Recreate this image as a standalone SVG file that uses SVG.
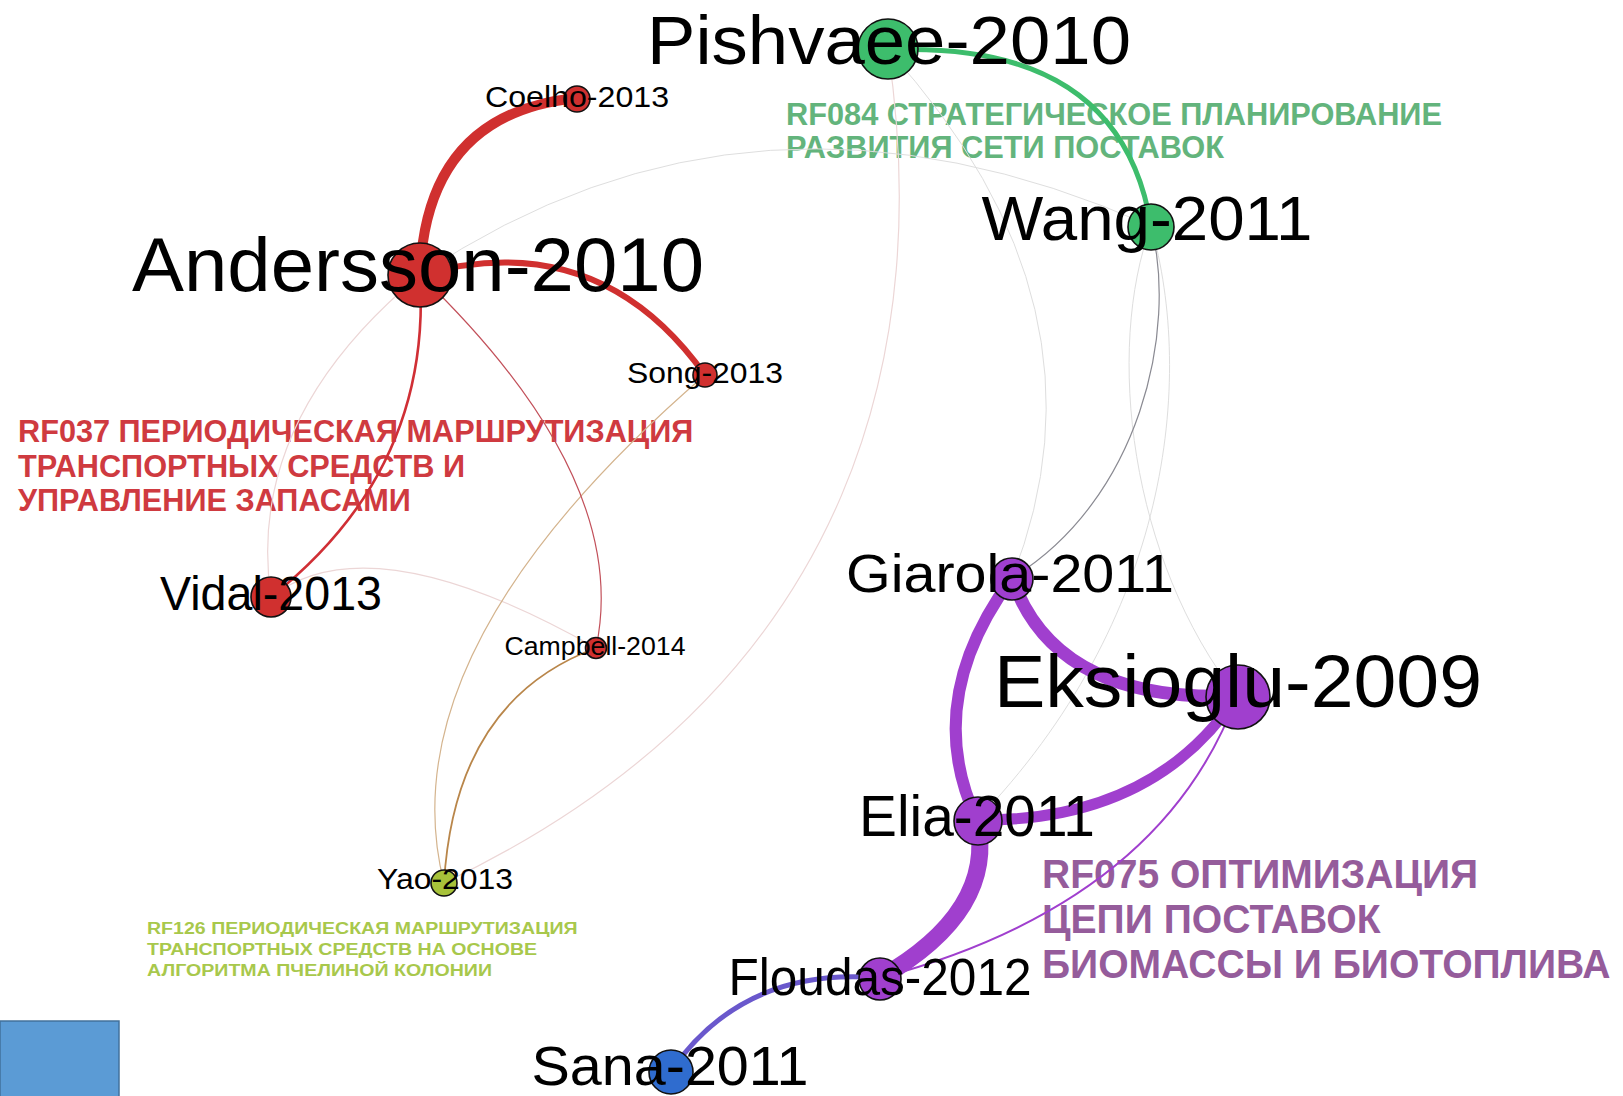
<svg xmlns="http://www.w3.org/2000/svg" width="1623" height="1096" viewBox="0 0 1623 1096">
  <style>
    .bg { fill: #ffffff; }
    .cluster { font-family: "Liberation Sans", Arial, sans-serif; font-weight: bold; }
    .c-green { fill: #63b47c; }
    .c-red { fill: #cf3a40; }
    .c-lime { fill: #a8c84c; }
    .c-purple { fill: #955c9b; }
    .edge { fill: none; stroke-linecap: round; }
    .faint { stroke: #dedede; stroke-width: 1; }
    .faint-pink { stroke: #ecd6d6; stroke-width: 1.2; }
    .node circle { stroke: #111111; stroke-width: 1.6; }
    .node text { font-family: "Liberation Sans", Arial, sans-serif; fill: #000000; text-anchor: middle; }
    .red { fill: #d0302f; }
    .green { fill: #3dbd6c; }
    .purple { fill: #a03fce; }
    .blue { fill: #2f6ccf; }
    .lime { fill: #a7c23a; }
  </style>

  <rect class="bg" x="0" y="0" width="1623" height="1096"/>

  <!-- cluster captions (condensed bold) -->
  <g id="cluster-labels">
    <g transform="translate(786,0) scale(0.92,1)">
      <text class="cluster c-green" font-size="32">
        <tspan x="0" y="125" textLength="713" lengthAdjust="spacingAndGlyphs">RF084 СТРАТЕГИЧЕСКОЕ ПЛАНИРОВАНИЕ</tspan>
        <tspan x="0" y="158" textLength="476" lengthAdjust="spacingAndGlyphs">РАЗВИТИЯ СЕТИ ПОСТАВОК</tspan>
      </text>
    </g>
    <g transform="translate(18,0) scale(0.92,1)">
      <text class="cluster c-red" font-size="32">
        <tspan x="0" y="442" textLength="734" lengthAdjust="spacingAndGlyphs">RF037 ПЕРИОДИЧЕСКАЯ МАРШРУТИЗАЦИЯ</tspan>
        <tspan x="0" y="477" textLength="486" lengthAdjust="spacingAndGlyphs">ТРАНСПОРТНЫХ СРЕДСТВ И</tspan>
        <tspan x="0" y="511" textLength="427" lengthAdjust="spacingAndGlyphs">УПРАВЛЕНИЕ ЗАПАСАМИ</tspan>
      </text>
    </g>
    <g transform="translate(147,0) scale(0.92,1)">
      <text class="cluster c-lime" font-size="17">
        <tspan x="0" y="934" textLength="468" lengthAdjust="spacingAndGlyphs">RF126 ПЕРИОДИЧЕСКАЯ МАРШРУТИЗАЦИЯ</tspan>
        <tspan x="0" y="955" textLength="424" lengthAdjust="spacingAndGlyphs">ТРАНСПОРТНЫХ СРЕДСТВ НА ОСНОВЕ</tspan>
        <tspan x="0" y="976" textLength="375" lengthAdjust="spacingAndGlyphs">АЛГОРИТМА ПЧЕЛИНОЙ КОЛОНИИ</tspan>
      </text>
    </g>
    <g transform="translate(1042,0) scale(0.92,1)">
      <text class="cluster c-purple" font-size="41">
        <tspan x="0" y="888" textLength="474" lengthAdjust="spacingAndGlyphs">RF075 ОПТИМИЗАЦИЯ</tspan>
        <tspan x="0" y="933" textLength="368" lengthAdjust="spacingAndGlyphs">ЦЕПИ ПОСТАВОК</tspan>
        <tspan x="0" y="978" textLength="618" lengthAdjust="spacingAndGlyphs">БИОМАССЫ И БИОТОПЛИВА</tspan>
      </text>
    </g>
  </g>

  <!-- citation links -->
  <g id="edges">
    <!-- faint links -->
    <path class="edge faint-pink" d="M271,597 Q245,420 420,275"/>
    <path class="edge faint-pink" d="M271,597 Q370,520 596,648"/>
    <path class="edge faint-pink" d="M888,50 C930,330 870,680 444,883"/>
    <path class="edge faint" d="M420,275 Q755,50 1151,226"/>
    <path class="edge faint" d="M888,50 Q1120,305 1012,578"/>
    <path class="edge faint" d="M1151,226 C1105,350 1130,560 1237,696"/>
    <path class="edge faint" stroke="#d2d2d2" d="M1151,226 C1195,380 1170,620 977,820"/>
    <path class="edge" stroke="#8a8a92" stroke-width="1.2" d="M1151,226 C1178,330 1140,500 1012,578"/>

    <!-- red cluster -->
    <path class="edge" stroke="#d4b48e" stroke-width="1.2" d="M705,375 Q385,651 444,883"/>
    <path class="edge" stroke="#b9864a" stroke-width="1.8" d="M596,648 Q455,700 444,883"/>
    <path class="edge" stroke="#c2505a" stroke-width="1.2" d="M420,275 Q632,479 596,648"/>
    <path class="edge" stroke="#d02f35" stroke-width="2.6" d="M420,275 Q432,470 271,597"/>
    <path class="edge" stroke="#d0302f" stroke-width="6" d="M420,275 Q598,225 705,375"/>
    <path class="edge" stroke="#d0302f" stroke-width="10" d="M420,275 Q426,113 577,98"/>

    <!-- green cluster -->
    <path class="edge" stroke="#3dbd6c" stroke-width="5" d="M888,50 Q1121,40 1151,226"/>

    <!-- purple cluster -->
    <path class="edge" stroke="#a03fce" stroke-width="2" d="M1237,696 Q1161,903 880,978"/>
    <path class="edge" stroke="#a03fce" stroke-width="13" d="M1012,578 Q1055,703 1237,696"/>
    <path class="edge" stroke="#a03fce" stroke-width="12" d="M1012,578 Q921,701 977,820"/>
    <path class="edge" stroke="#a03fce" stroke-width="11" d="M1237,696 Q1153,822 977,820"/>
    <path class="edge" stroke="#a03fce" stroke-width="17" d="M977,820 Q997,911 880,978"/>
    <path class="edge" stroke="#6a58cc" stroke-width="5" d="M880,978 Q744,966 671,1071"/>
  </g>

  <!-- papers -->
  <g id="node-pishvaee-2010" class="node">
    <circle class="green" cx="888" cy="49" r="30"/>
    <text x="889" y="64" font-size="68" textLength="484" lengthAdjust="spacingAndGlyphs">Pishvaee-2010</text>
  </g>
  <g id="node-coelho-2013" class="node">
    <circle class="red" cx="577" cy="99" r="13"/>
    <text x="577" y="107" font-size="30" textLength="184" lengthAdjust="spacingAndGlyphs">Coelho-2013</text>
  </g>
  <g id="node-andersson-2010" class="node">
    <circle class="red" cx="420" cy="275" r="32"/>
    <text x="418" y="291" font-size="76" textLength="572" lengthAdjust="spacingAndGlyphs">Andersson-2010</text>
  </g>
  <g id="node-wang-2011" class="node">
    <circle class="green" cx="1151" cy="227" r="23"/>
    <text x="1147" y="240" font-size="63" textLength="331" lengthAdjust="spacingAndGlyphs">Wang-2011</text>
  </g>
  <g id="node-song-2013" class="node">
    <circle class="red" cx="705" cy="375" r="12"/>
    <text x="705" y="383" font-size="30" textLength="156" lengthAdjust="spacingAndGlyphs">Song-2013</text>
  </g>
  <g id="node-vidal-2013" class="node">
    <circle class="red" cx="271" cy="597" r="20"/>
    <text x="271" y="610" font-size="48" textLength="222" lengthAdjust="spacingAndGlyphs">Vidal-2013</text>
  </g>
  <g id="node-campbell-2014" class="node">
    <circle class="red" cx="596" cy="648" r="10.5"/>
    <text x="595" y="655" font-size="25" textLength="181" lengthAdjust="spacingAndGlyphs">Campbell-2014</text>
  </g>
  <g id="node-yao-2013" class="node">
    <circle class="lime" cx="444" cy="883" r="13"/>
    <text x="445" y="889" font-size="29" textLength="136" lengthAdjust="spacingAndGlyphs">Yao-2013</text>
  </g>
  <g id="node-giarola-2011" class="node">
    <circle class="purple" cx="1012" cy="579" r="21"/>
    <text x="1010" y="592" font-size="54" textLength="328" lengthAdjust="spacingAndGlyphs">Giarola-2011</text>
  </g>
  <g id="node-eksioglu-2009" class="node">
    <circle class="purple" cx="1238" cy="697" r="32"/>
    <text x="1238" y="707" font-size="74" textLength="488" lengthAdjust="spacingAndGlyphs">Eksioglu-2009</text>
  </g>
  <g id="node-elia-2011" class="node">
    <circle class="purple" cx="978" cy="821" r="24"/>
    <text x="977" y="836" font-size="57" textLength="236" lengthAdjust="spacingAndGlyphs">Elia-2011</text>
  </g>
  <g id="node-floudas-2012" class="node">
    <circle class="purple" cx="880" cy="979" r="21"/>
    <text x="880" y="995" font-size="52" textLength="303" lengthAdjust="spacingAndGlyphs">Floudas-2012</text>
  </g>
  <g id="node-sana-2011" class="node">
    <circle class="blue" cx="671" cy="1072" r="22"/>
    <text x="670" y="1085" font-size="56" textLength="277" lengthAdjust="spacingAndGlyphs">Sana-2011</text>
  </g>

  <!-- corner marker -->
  <rect x="0" y="1021" width="119" height="76" fill="#5b9bd5" stroke="#41719c" stroke-width="1.5"/>
</svg>
